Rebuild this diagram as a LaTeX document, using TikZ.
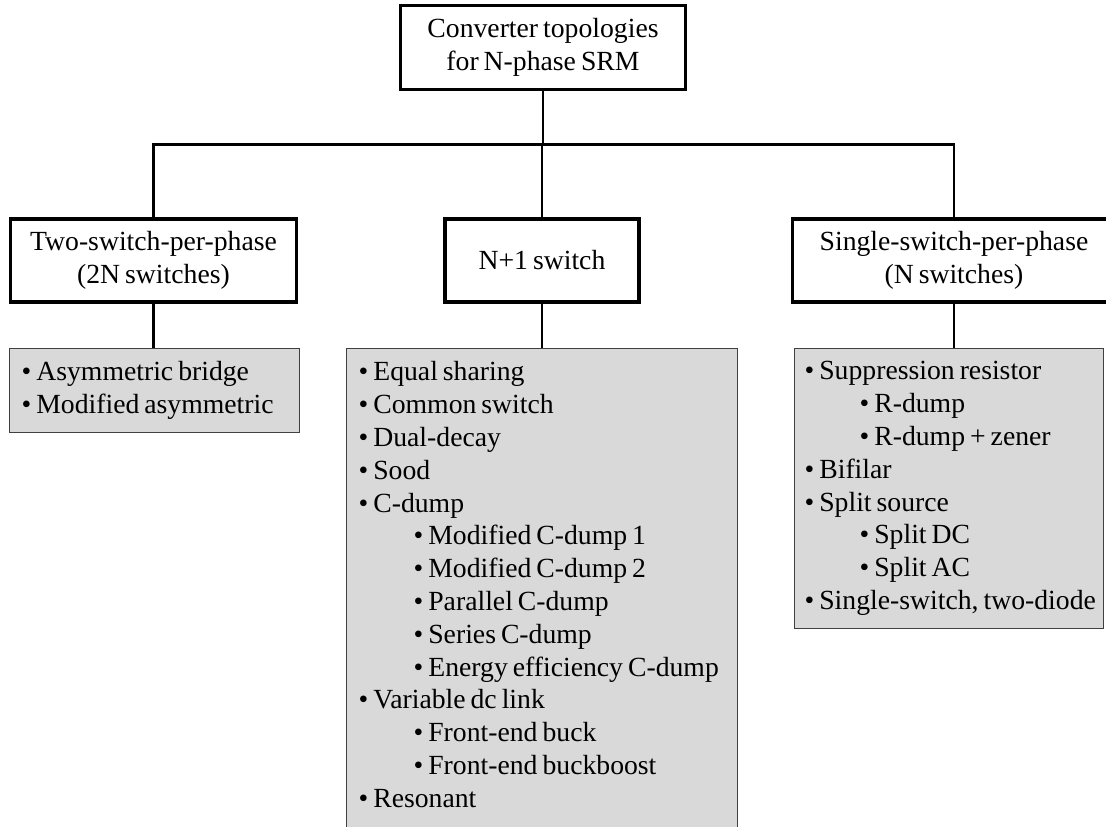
\documentclass[tikz,border=0pt]{standalone}
\usepackage{fontspec}
\setmainfont{Liberation Serif}
\definecolor{boxgray}{HTML}{D9D9D9}
\definecolor{edgegray}{HTML}{404040}
\newcommand\tightsp{\spaceskip=0.18em plus 0.05em minus 0.02em\relax}
\newcommand\itm[1]{\mbox{\tightsp\textbullet\hspace{5pt}#1}}
\newcommand\subitm[1]{\hspace*{55pt}\mbox{\tightsp\textbullet\hspace{5pt}#1}}
\newcommand\diagfont{\fontsize{27.7}{32.8}\selectfont\tightsp}
\begin{document}
\begin{tikzpicture}[x=1pt,y=-1pt,
  every node/.style={font=\diagfont},
  wbox/.style={draw=black,line width=3.3pt,fill=white,align=center,inner sep=0pt},
  gbox/.style={draw=edgegray,line width=1.3pt,fill=boxgray,align=flush left,anchor=north west,inner ysep=13pt},
  conn/.style={draw=black,line width=2.2pt}]
\useasboundingbox (0,0) rectangle (1106,827);
\clip (0,0) rectangle (1106,827);
\node[wbox,minimum width=285pt,minimum height=84pt] (root) at (543,47.5) {Converter topologies\\for N-phase SRM};
\node[wbox,minimum width=286pt,minimum height=83pt] (two) at (153.5,260.5) {Two-switch-per-phase\\(2N switches)};
\node[wbox,minimum width=194pt,minimum height=83pt] (np1) at (542,260.5) {N+1 switch};
\node[wbox,minimum width=323pt,minimum height=83pt] (one) at (954,260.5) {Single-switch-per-phase\\(N switches)};
\node[gbox,inner xsep=12pt,text width=266pt] (twolist) at (9,348) {\itm{Asymmetric bridge}\\\itm{Modified asymmetric}};
\node[gbox,inner xsep=12pt,text width=367pt] (nlist) at (346,348) {\itm{Equal sharing}\\\itm{Common switch}\\\itm{Dual-decay}\\\itm{Sood}\\\itm{C-dump}\\\subitm{Modified C-dump 1}\\\subitm{Modified C-dump 2}\\\subitm{Parallel C-dump}\\\subitm{Series C-dump}\\\subitm{Energy efficiency C-dump}\\\itm{Variable dc link}\\\subitm{Front-end buck}\\\subitm{Front-end buckboost}\\\itm{Resonant}\rule[-40pt]{0pt}{1pt}};
\node[gbox,inner xsep=10pt,text width=289pt] (onelist) at (794,348) {\itm{Suppression resistor}\\\subitm{R-dump}\\\subitm{R-dump + zener}\\\itm{Bifilar}\\\itm{Split source}\\\subitm{Split DC}\\\subitm{Split AC}\\\itm{Single-switch, two-diode}};
\coordinate (bar) at (0,144.5);
\draw[conn] (root.south) -- (root.south |- bar);
\draw[conn] (two.north) -- (two.north |- bar) -| (one.north);
\draw[conn] (np1.north) -- (np1.north |- bar);
\draw[conn] (two.south) -- (two.south |- twolist.north);
\draw[conn] (np1.south) -- (np1.south |- nlist.north);
\draw[conn] (one.south) -- (one.south |- onelist.north);
\end{tikzpicture}
\end{document}
